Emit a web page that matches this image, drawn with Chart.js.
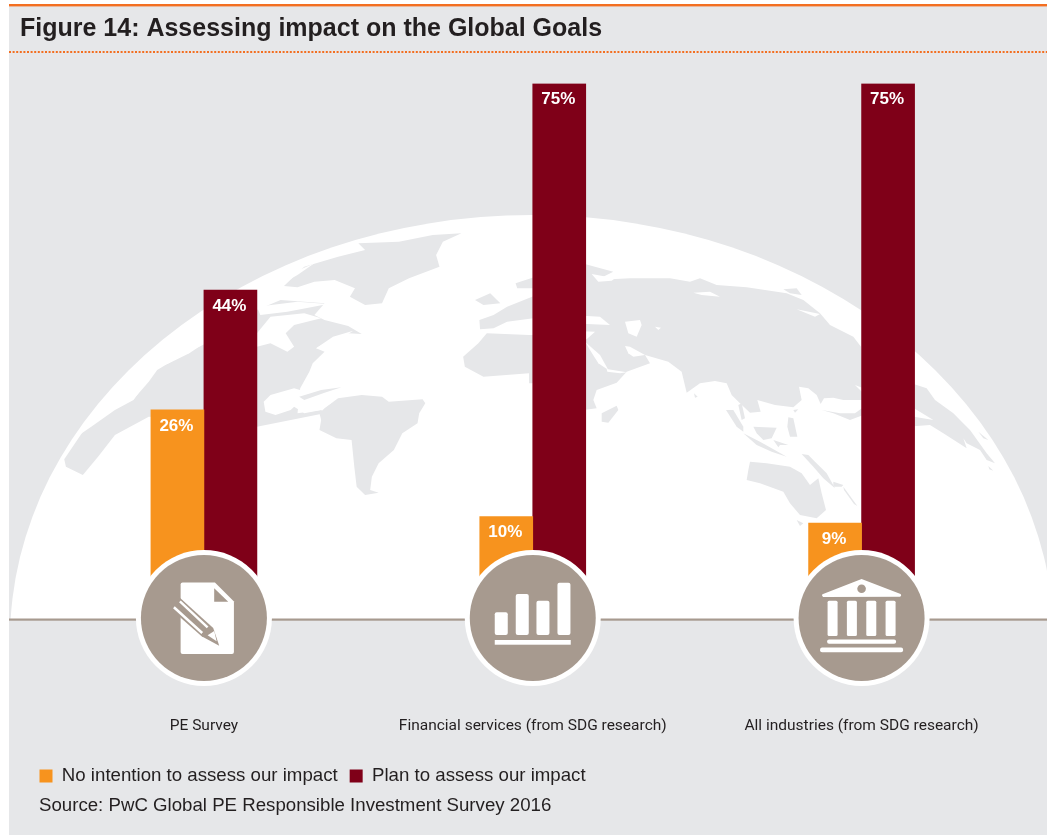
<!DOCTYPE html>
<html><head><meta charset="utf-8">
<style>html,body{margin:0;padding:0;background:#fff}canvas{display:block}</style>
<script src="https://cdn.jsdelivr.net/npm/chart.js@4"></script></head>
<body><div style="width:1047px;height:835px;position:relative"><canvas id="c" width="1047" height="835"></canvas></div>
<script>
const categories = ["PE Survey","Financial services (from SDG research)","All industries (from SDG research)"];
const noIntention = [26,10,9];
const planToAssess = [44,75,75];
const seriesNames = ["No intention to assess our impact","Plan to assess our impact"];
const titleText = "Figure 14: Assessing impact on the Global Goals";
const sourceText = "Source: PwC Global PE Responsible Investment Survey 2016";

const GRAY="#e6e7e9", ORANGE="#f7931e", DARK="#7f0018", BROWN="#a79a8f", ACCENT="#f36f21", INK="#231f20";

// Decorative world map, traced in crop coordinates
const landL=[
 [[840,258],[900,200],[1000,170],[1080,150],[1060,130],[1180,125],[1280,105],[1365,100],[1310,125],[1290,165],[1300,200],[1210,235],[1150,265],[1130,310],[1080,315],[1035,290],[1050,265],[990,240],[930,245],[880,262]],
 [[190,778],[245,695],[340,625],[395,598],[440,545],[465,510],[530,470],[610,430],[700,380],[760,330],[830,300],[960,310],[930,345],[960,360],[1030,378],[1070,402],[1030,400],[960,430],[935,445],[960,455],[925,490],[915,515],[888,565],[880,640],[950,630],[960,640],[760,680],[604,655],[440,650],[340,705],[290,770],[245,825],[195,800]],
 [[945,640],[960,625],[1000,595],[1070,585],[1130,590],[1150,605],[1250,598],[1258,610],[1240,640],[1235,670],[1190,700],[1165,750],[1120,790],[1100,830],[1095,870],[1120,878],[1080,885],[1055,860],[1048,800],[1040,720],[995,715],[945,690],[950,660]],
 [[1565,405],[1440,400],[1415,430],[1370,470],[1375,500],[1430,530],[1565,520],[1565,550],[1600,550],[1600,405]],
 [[1420,388],[1418,360],[1460,345],[1500,320],[1600,280],[1600,352],[1500,365],[1460,385]],
 [[1405,300],[1450,280],[1480,310],[1430,315]],
 [[1525,250],[1600,225],[1600,265],[1530,265]]
];
const seaL=[
 [[760,400],[800,350],[900,340],[950,355],[870,375],[845,400],[870,440],[850,455],[800,430],[760,440]],
 [[760,320],[880,305],[970,312],[850,335],[770,345]],
 [[935,445],[985,410],[1045,392],[1000,420],[960,445]],
 [[780,605],[800,585],[870,565],[905,575],[990,565],[1010,560],[960,590],[985,605],[950,630],[900,640],[870,620],[860,630],[815,645],[785,635]],
 [[462,505],[520,450],[580,405],[604,400],[604,430],[560,460],[500,490]],
 [[220,715],[300,640],[390,585],[430,550],[395,600],[340,630],[270,680]],
 [[760,280],[830,235],[930,190],[880,225],[800,270]]
];
const grayOverSeaL=[[[885,590],[950,570],[1010,562],[960,578],[900,600]]];
const landR=[
 [[120,180],[156,190],[250,215],[200,240],[300,235],[420,235],[480,245],[510,235],[560,255],[650,262],[770,280],[820,300],[870,340],[900,375],[970,410],[993,440],[1000,600],[940,600],[910,593],[882,595],[872,612],[860,585],[835,565],[807,560],[815,600],[790,622],[735,615],[682,600],[692,635],[660,638],[630,610],[605,585],[590,550],[555,543],[510,550],[470,578],[455,515],[415,485],[345,465],[360,490],[290,515],[260,548],[200,570],[190,600],[200,625],[160,630],[150,665],[120,665]],
 [[215,640],[260,617],[265,630],[235,668],[215,665]],
 [[492,580],[503,590],[495,593]],
 [[588,630],[610,630],[640,680],[640,695],[620,680]],
 [[625,615],[635,610],[645,655],[635,660]],
 [[670,680],[740,683],[725,715],[700,720],[680,700]],
 [[775,652],[790,655],[802,710],[780,710],[772,680]],
 [[640,700],[690,725],[725,745],[770,770],[725,755],[680,735]],
 [[730,720],[775,735],[750,735],[745,742]],
 [[815,762],[835,765],[855,785],[890,820],[915,865],[880,835],[850,800]],
 [[875,630],[930,640],[975,640],[1000,622],[1000,645],[960,660],[910,640]],
 [[790,630],[805,628],[795,638]],
 [[660,785],[710,790],[780,800],[815,820],[840,855],[865,835],[875,880],[888,930],[860,955],[810,945],[780,910],[760,875],[690,850],[650,840],[655,810]],
 [[800,960],[820,970],[810,978]],
 [[910,845],[940,855],[935,860],[910,860]],
 [[940,860],[982,918],[972,912],[942,870]],
 [[1130,545],[1190,565],[1215,600],[1270,640],[1290,660],[1320,690],[1370,760],[1395,790],[1370,780],[1350,750],[1310,730],[1300,715],[1310,745],[1240,700],[1200,675],[1130,680]],
 [[1345,695],[1375,720],[1360,715]],
 [[1375,798],[1390,812],[1378,808]],
 [[760,268],[800,265],[815,285],[780,280]]
];
const seaR=[
 [[285,365],[330,360],[335,375],[320,410],[295,400]],
 [[120,345],[210,350],[240,375],[120,370]],
 [[120,392],[195,395],[170,418],[120,415]],
 [[375,380],[393,383],[385,390]],
 [[165,425],[210,465],[235,510],[205,490],[180,450]],
 [[285,438],[300,440],[345,465],[310,470],[295,460]],
 [[230,507],[290,517],[270,520],[232,515]],
 [[185,222],[255,235],[245,242],[205,245]],
 [[490,278],[540,275],[570,290],[515,285]],
 [[800,328],[870,342],[855,350]],
 [[975,555],[1000,565],[1000,580]],
 [[1152,625],[1210,660],[1152,650]]
];

function poly(ctx,pts,mapX,mapY){
  ctx.beginPath();
  pts.forEach((p,i)=>{const x=mapX(p[0]),y=mapY(p[1]);i?ctx.lineTo(x,y):ctx.moveTo(x,y);});
  ctx.closePath();ctx.fill();
}
function rrect(ctx,x,y,w,h,r){ctx.beginPath();ctx.roundRect(x,y,w,h,r);ctx.fill();}

// Icons: coordinates relative to circle centre
function iconDoc(ctx){
  ctx.fillStyle="#fff";
  ctx.beginPath();ctx.moveTo(-21,-35.5);ctx.lineTo(11,-35.5);ctx.lineTo(30,-16.5);ctx.lineTo(30,34);
  ctx.arcTo(30,36,28,36,2);ctx.lineTo(-21,36);ctx.arcTo(-23.3,36,-23.3,34,2);ctx.lineTo(-23.3,-33);ctx.arcTo(-23.3,-35.5,-21,-35.5,2);ctx.closePath();ctx.fill();
  ctx.fillStyle=BROWN;
  ctx.beginPath();ctx.moveTo(10.3,-29.7);ctx.lineTo(10.3,-16.3);ctx.lineTo(24.3,-16.3);ctx.closePath();ctx.fill();
  ctx.beginPath();ctx.moveTo(-25.7,-21.7);ctx.lineTo(9.3,10);ctx.lineTo(15.3,27.7);ctx.lineTo(-2.3,18.3);ctx.lineTo(-32.3,-8.3);ctx.closePath();ctx.fill();
  ctx.strokeStyle="#fff";ctx.lineWidth=2.5;
  ctx.beginPath();ctx.moveTo(-30,-10.7);ctx.lineTo(-1.7,15);ctx.moveTo(-24,-16.7);ctx.lineTo(3.7,9.3);ctx.stroke();
  ctx.fillStyle="#fff";
  ctx.beginPath();ctx.moveTo(3.7,17.3);ctx.lineTo(10.3,13);ctx.lineTo(12.7,23.3);ctx.closePath();ctx.fill();
}
function iconBars(ctx){
  ctx.fillStyle="#fff";
  [[-38,-5.7,13,22.7],[-17,-24,13,41],[3.7,-17.3,13,34.3],[24.7,-35.3,13,52.3]].forEach(b=>rrect(ctx,b[0],b[1],b[2],b[3],2));
  ctx.fillRect(-38,22,76,4.7);
}
function iconBank(ctx){
  ctx.fillStyle="#fff";
  ctx.beginPath();ctx.moveTo(0,-39);ctx.lineTo(39,-24);ctx.arcTo(41,-22,39,-21.5,1.5);ctx.lineTo(-39,-21.5);ctx.arcTo(-41,-22,-39,-24,1.5);ctx.closePath();ctx.fill();
  [-34,-14.7,4.7,24].forEach(x=>rrect(ctx,x,-17.3,10,35.3,1.5));
  rrect(ctx,-34.5,21.5,69,4.3,2);
  rrect(ctx,-41.5,29.5,83,4.7,2);
  ctx.fillStyle=BROWN;ctx.beginPath();ctx.arc(0,-29.3,4.3,0,Math.PI*2);ctx.fill();
}
const icons=[iconDoc,iconBars,iconBank];

const decor={
  id:"decor",
  afterLayout(chart){
    const l=chart.legend; l.left=27.5; l.right=1000; l.top=754.7; l.bottom=797;
    const t=chart.titleBlock; t.left=20; t.right=1000; t.top=14; t.bottom=50;
    const s=chart.boxes.find(b=>b.options&&b.options.text===sourceText);
    if(s){s.left=39;s.right=1000;s.top=794.5;s.bottom=818;}
  },
  beforeDraw(chart){
    const c=chart.ctx;c.save();
    c.fillStyle="#fff";c.fillRect(0,0,1047,835);
    c.fillStyle=GRAY;c.fillRect(9,5,1038,830);
    c.fillStyle=ACCENT;c.fillRect(9,4,1038,2.4);
    c.strokeStyle=ACCENT;c.lineWidth=2;c.setLineDash([2,1.6]);
    c.beginPath();c.moveTo(9,52);c.lineTo(1047,52);c.stroke();c.setLineDash([]);
    // globe
    c.save();c.beginPath();c.rect(9,60,1038,559);c.clip();
    c.fillStyle="#fff";c.beginPath();c.ellipse(532,640,522,425,0,0,Math.PI*2);c.fill();
    const lx=x=>x/2.958,rx=x=>530+x/3,my=y=>200+y/3;
    c.fillStyle=GRAY;landL.forEach(p=>poly(c,p,lx,my));
    c.fillStyle="#fff";seaL.forEach(p=>poly(c,p,lx,my));
    c.fillStyle=GRAY;grayOverSeaL.forEach(p=>poly(c,p,lx,my));
    landR.forEach(p=>poly(c,p,rx,my));
    c.fillStyle="#fff";seaR.forEach(p=>poly(c,p,rx,my));
    c.restore();
    c.fillStyle=BROWN;c.fillRect(9,618.5,1038,2.2);
    c.restore();
  },
  afterDatasetsDraw(chart){
    const c=chart.ctx;c.save();
    c.font="bold 17px 'Liberation Sans'";c.fillStyle="#fff";c.textAlign="center";c.textBaseline="middle";
    chart.data.datasets.forEach((d,i)=>{
      chart.getDatasetMeta(i).data.forEach((bar,j)=>{
        c.fillText(d.data[j]+"%",bar.x-1,bar.y+16);
      });
    });
    const xs=chart.scales.x;
    categories.forEach((_,i)=>{
      const x=xs.getPixelForValue(i),y=618;
      c.fillStyle="#fff";c.beginPath();c.arc(x,y,68,0,Math.PI*2);c.fill();
      c.fillStyle=BROWN;c.beginPath();c.arc(x,y,63,0,Math.PI*2);c.fill();
      c.save();c.translate(x,y);icons[i](c);c.restore();
    });
    c.restore();
  }
};

new Chart(document.getElementById("c"),{
  type:"bar",
  data:{labels:categories,datasets:[
    {label:seriesNames[0],data:noIntention,backgroundColor:ORANGE,barThickness:53},
    {label:seriesNames[1],data:planToAssess,backgroundColor:DARK,barThickness:53}
  ]},
  options:{
    responsive:false,animation:false,
    layout:{padding:{left:39.5,right:21,top:0,bottom:33.8}},
    scales:{
      x:{grid:{display:false},border:{display:false},
         afterFit(s){s.height=155;s.paddingLeft=0;s.paddingRight=0;},
         ticks:{autoSkip:false,maxRotation:0,padding:126,color:INK,font:{family:"Roboto",size:15.5}}},
      y:{display:false,min:0,max:75}
    },
    plugins:{
      title:{display:true,text:titleText,align:"start",color:INK,font:{family:"'Liberation Sans'",weight:"bold",size:25},padding:{top:0,bottom:53.5}},
      subtitle:{display:true,position:"bottom",text:sourceText,align:"start",color:INK,font:{family:"'Liberation Sans'",size:18.66},padding:0},
      legend:{position:"bottom",align:"start",labels:{boxWidth:13,boxHeight:13,padding:12,color:INK,font:{family:"'Liberation Sans'",size:18.66}}},
      tooltip:{enabled:false}
    }
  },
  plugins:[decor]
});
</script></body></html>
